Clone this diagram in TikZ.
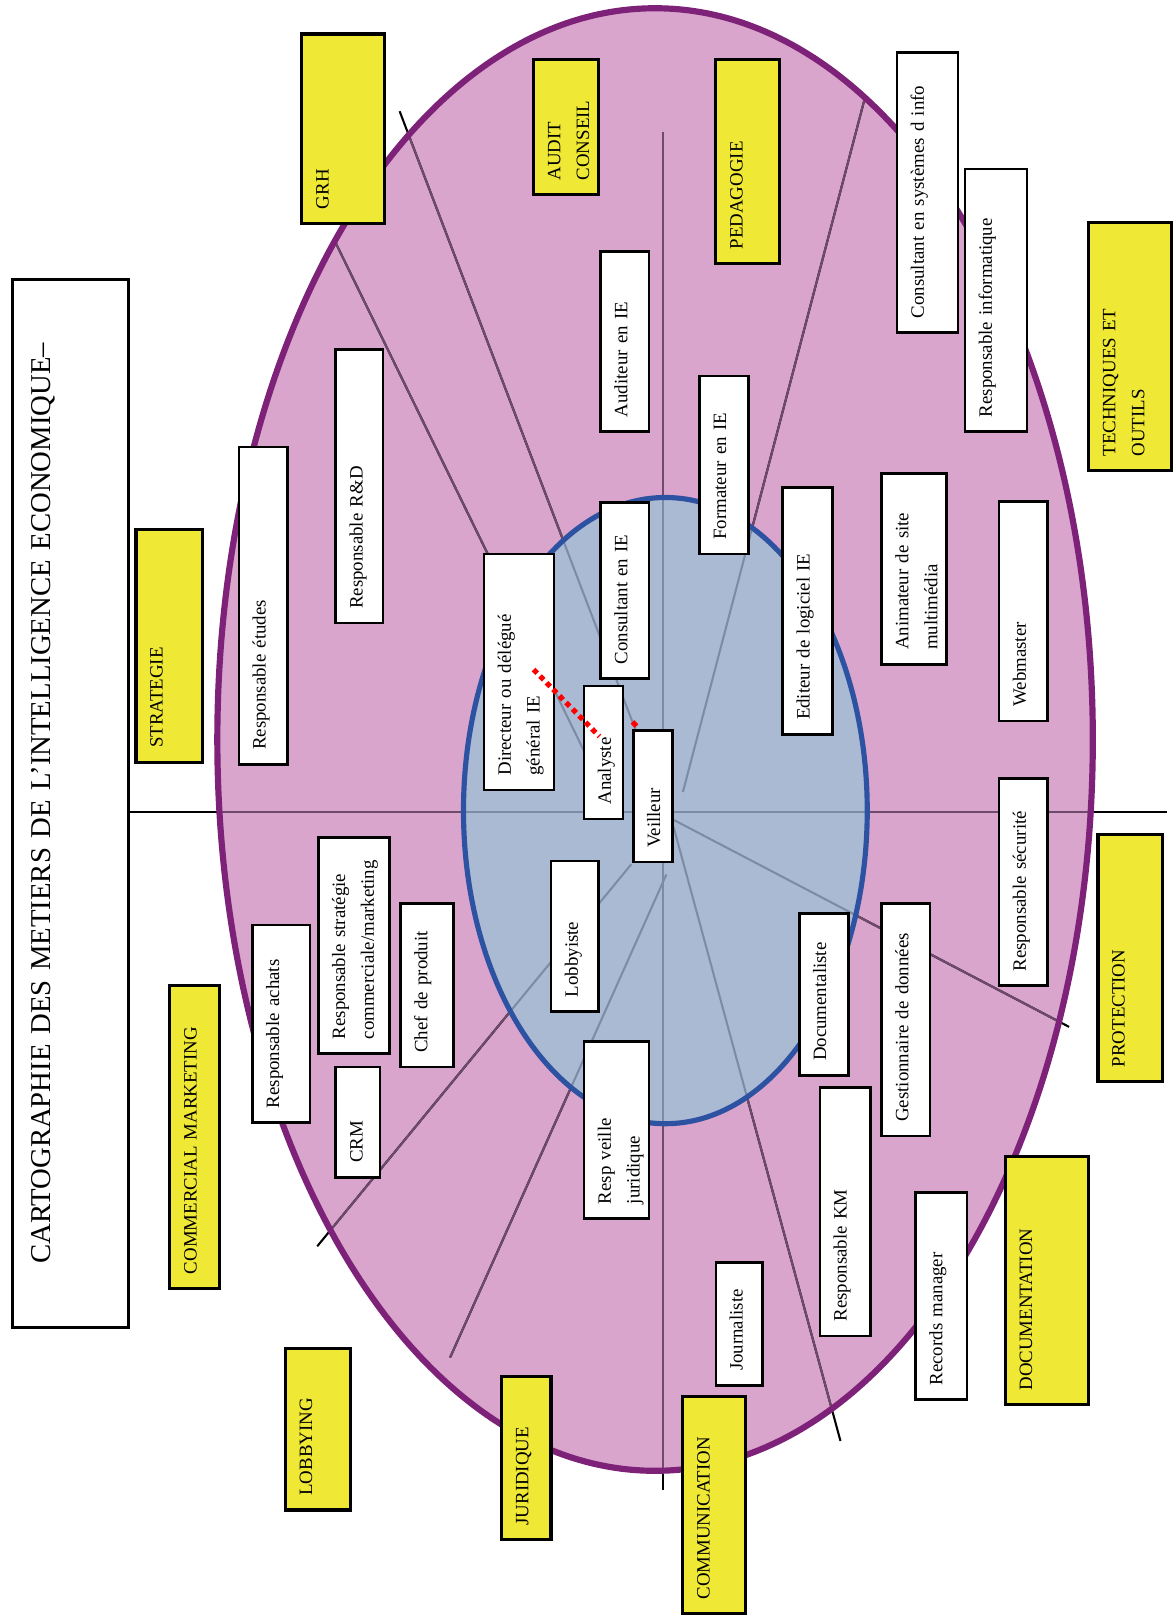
\documentclass[tikz,border=0pt]{standalone}
\usepackage{fontspec}
\setmainfont{Liberation Serif}

\definecolor{ringpink}{HTML}{DAA5CC}
\definecolor{ringpurple}{HTML}{7D2278}
\definecolor{corefill}{HTML}{AABAD3}
\definecolor{coreblue}{HTML}{2D52A2}
\definecolor{areayellow}{HTML}{EFE936}
\definecolor{pinkline}{HTML}{6E4B6C}
\definecolor{blueline}{HTML}{7D8CA5}

\begin{document}
\begin{tikzpicture}[x=1pt, y=-1pt,
    jobbox/.style={draw, line width=2.6pt, fill=white, rotate=90, align=left,
      inner xsep=14pt, inner ysep=0pt, text height=26pt,
      font=\fontsize{18.3pt}{28pt}\selectfont},
    areabox/.style={jobbox, line width=3pt, fill=areayellow},
    spoke/.style={line width=2pt}]

            \useasboundingbox (0,0) rectangle (1138,1568);

            % Centres of the two rings
            \coordinate (outer) at (636,718);
            \coordinate (inner) at (646,787);

            % Ends of the spokes
            \coordinate (c) at (648,790);
            \coordinate (s1) at (388,108);
            \coordinate (s2a) at (326,236);
            \coordinate (s2b) at (587,770);
            \coordinate (s4a) at (840,94);
            \coordinate (s4b) at (663,769);
            \coordinate (s6a) at (654,796);
            \coordinate (s6b) at (1038,997);
            \coordinate (s7a) at (654,803);
            \coordinate (s7b) at (816,1399);
            \coordinate (s8a) at (647,849);
            \coordinate (s8b) at (437,1318);
            \coordinate (s9a) at (613,839);
            \coordinate (s9b) at (308,1210);
            \coordinate (vt) at (644,128);
            \coordinate (vb) at (644,1447);
            \coordinate (hl) at (125,788);
            \coordinate (hr) at (1133,788);
            \def\spokelist{c/s1, s2a/s2b, s4a/s4b, s6a/s6b, s7a/s7b, s8a/s8b, s9a/s9b, vt/vb, hl/hr}

            % Outer ring
            \fill[ringpink] (outer) ellipse [x radius=425, y radius=710];

            % Spokes, black outside, darker inside the rings
            \foreach \a/\b in \spokelist
              \draw[spoke] (\a) -- (\b);
            \begin{scope}
              \clip (outer) ellipse [x radius=425, y radius=710];
              \foreach \a/\b in \spokelist
                \draw[spoke, pinkline] (\a) -- (\b);
            \end{scope}
            \begin{scope}
              \clip (inner) ellipse [x radius=196, y radius=304];
              \fill[corefill] (inner) ellipse [x radius=196, y radius=304];
              \foreach \a/\b in \spokelist
                \draw[spoke, blueline] (\a) -- (\b);
            \end{scope}

            % Ring borders
            \draw[ringpurple, line width=6pt] (outer) ellipse [x radius=425, y radius=710];
            \draw[coreblue, line width=5pt] (inner) ellipse [x radius=196, y radius=304];

            % Title
            \node[draw, line width=3pt, fill=white, rotate=90, align=center,
              inner xsep=14pt, inner ysep=0pt, text width=990pt,
              text height=37.5pt, text depth=75.5pt,
              font=\fontsize{27.9pt}{34pt}\selectfont] (titre) at (68.5,780)
              {CARTOGRAPHIE DES METIERS DE L’INTELLIGENCE ECONOMIQUE–};

            % Areas
            \node[areabox, text width=156pt, text depth=54pt] (grh) at (333,125) {GRH};
            \node[areabox, text width=103pt, text depth=37pt] (audit) at (549.5,123.5) {AUDIT\\CONSEIL};
            \node[areabox, text width=170pt, text depth=36pt] (pedagogie) at (726,157) {PEDAGOGIE};
            \node[areabox, text width=198pt, text depth=39pt] (strategie) at (164.5,627) {STRATEGIE};
            \node[areabox, text width=213pt, text depth=54pt] (techniques) at (1097,336.5) {TECHNIQUES ET\\OUTILS};
            \node[areabox, text width=266pt, text depth=22pt] (commercial) at (189,1104) {COMMERCIAL MARKETING};
            \node[areabox, text width=212pt, text depth=37pt] (protection) at (1097.5,930) {PROTECTION};
            \node[areabox, text width=213pt, text depth=55pt] (documentation) at (1016.5,1243.5) {DOCUMENTATION};
            \node[areabox, text width=129pt, text depth=37pt] (lobbying) at (308.5,1387.5) {LOBBYING};
            \node[areabox, text width=131pt, text depth=22pt] (juridique) at (511,1415.5) {JURIDIQUE};
            \node[areabox, text width=183pt, text depth=35pt] (communication) at (693.5,1461.5) {COMMUNICATION};

            % Jobs
            \node[jobbox, text width=280pt, text depth=21pt] (etudes) at (255.5,588) {Responsable études};
            \node[jobbox, text width=238pt, text depth=20pt] (rd) at (349,472) {Responsable R\&D};
            \node[jobbox, text width=201pt, text depth=42pt] (directeur) at (504,652.5) {Directeur ou délégué\\général IE};
            \node[jobbox, text width=101pt, text depth=12pt] (analyste) at (586,730.5) {Analyste};
            \node[jobbox, text width=143pt, text depth=21pt] (consultant) at (606.5,573.5) {Consultant en IE};
            \node[jobbox, text width=147pt, text depth=21pt] (auditeur) at (606.5,331.5) {Auditeur en IE};
            \node[jobbox, text width=100pt, text depth=12pt] (veilleur) at (634,773) {Veilleur};
            \node[jobbox, text width=145pt, text depth=22pt] (formateur) at (703,451.5) {Formateur en IE};
            \node[jobbox, text width=212pt, text depth=22pt] (editeur) at (784,593) {Editeur de logiciel IE};
            \node[jobbox, text width=157pt, text depth=37pt] (animateur) at (887.5,552.5) {Animateur de site\\multimédia};
            \node[jobbox, text width=185pt, text depth=21pt] (webmaster) at (993.5,593.5) {Webmaster};
            \node[jobbox, text width=244pt, text depth=33pt] (consultsi) at (900.5,187) {Consultant en systèmes d info};
            \node[jobbox, text width=227pt, text depth=34pt] (informatique) at (967,291.5) {Responsable informatique};
            \node[jobbox, text width=173pt, text depth=21pt] (securite) at (993.5,856.5) {Responsable sécurité};
            \node[jobbox, text width=118pt, text depth=20pt] (lobbyiste) at (558,909) {Lobbyiste};
            \node[jobbox, text width=182pt, text depth=43pt] (stratcom) at (343.5,918) {Responsable stratégie\\commerciale/marketing};
            \node[jobbox, text width=131pt, text depth=25pt] (chefproduit) at (414.5,956.5) {Chef de produit};
            \node[jobbox, text width=164pt, text depth=30pt] (achats) at (273,994) {Responsable achats};
            \node[jobbox, text width=79pt, text depth=17pt] (crm) at (347.5,1089.5) {CRM};
            \node[jobbox, text width=144pt, text depth=37pt] (veillejur) at (598.5,1097) {Resp veille\\juridique};
            \node[jobbox, text width=129pt, text depth=22pt] (documentaliste) at (800,965.5) {Documentaliste};
            \node[jobbox, text width=198pt, text depth=21pt] (gestionnaire) at (879.5,990) {Gestionnaire de données};
            \node[jobbox, text width=213pt, text depth=23pt] (km) at (820.5,1176.5) {Responsable KM};
            \node[jobbox, text width=173pt, text depth=24pt] (records) at (914,1258.5) {Records manager};
            \node[jobbox, text width=91pt, text depth=19pt] (journaliste) at (717.5,1285.5) {Journaliste};

            % Red dotted link
            \coordinate (r1) at (518,650);
            \coordinate (r2) at (582,715);
            \coordinate (r3) at (614,701);
            \coordinate (r4) at (618,705);
            \draw[red, line width=5pt, dash pattern=on 5pt off 4pt] (r1) -- (r2);
            \draw[red, line width=5pt] (r3) -- (r4);

        \end{tikzpicture}
\end{document}
